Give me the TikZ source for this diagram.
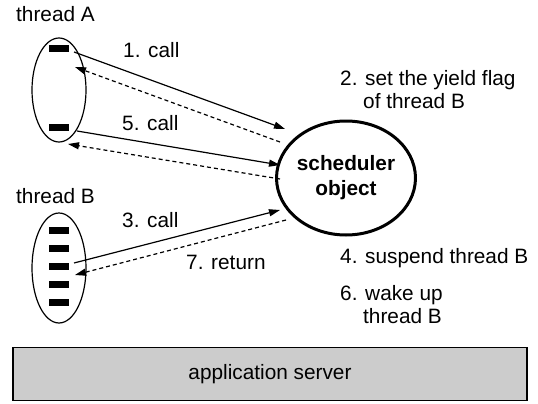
\documentclass[tikz,border=0pt]{standalone}
\usepackage{fontspec}
\setmainfont{Liberation Sans}
\usetikzlibrary{shapes.geometric,arrows.meta}
\begin{document}
\begin{tikzpicture}[x=1pt,y=-1pt,
  lbl/.style={font=\fontsize{20.8}{24}\selectfont, inner sep=0pt, anchor=base west},
  thr/.style={draw, ellipse, line width=1.2pt, inner sep=0pt},
  bar/.style={fill=black, inner sep=0pt, minimum width=20pt, minimum height=7pt},
  call/.style={line width=1.2pt, -{Triangle[length=11pt,width=7pt]}},
  ret/.style={line width=1.2pt, dash pattern=on 4pt off 3pt, -{Triangle[length=11pt,width=7pt]}},
  sched/.style={draw, ellipse, line width=3pt, minimum width=122pt, minimum height=114pt, inner sep=0pt,
     font=\bfseries\fontsize{20.8}{25}\selectfont, align=center},
  server/.style={draw, line width=1.5pt, fill={rgb,255:red,204;green,204;blue,204}, minimum width=514pt, minimum height=53pt,
     font=\fontsize{20.8}{24}\selectfont}]
\useasboundingbox (0,0) rectangle (538,404);
% threads
\node[lbl] (tAl) at (16,22) {thread A};
\node[thr, minimum width=54pt, minimum height=104pt] (tA) at (59,90) {};
\node[bar] (a1) at (59,49) {};
\node[bar] (a2) at (59,127) {};
\node[lbl] (tBl) at (16,203) {thread B};
\node[thr, minimum width=54pt, minimum height=110pt] (tB) at (59,268) {};
\foreach \i/\y in {1/230,2/248,3/266,4/284,5/302}{
  \node[bar] (b\i) at (59,\y) {};
}
% scheduler
\node[sched] (s) at (346,178) {scheduler\\object};
% endpoints
\coordinate (c1s) at (74,52);  \coordinate (c1e) at (285,129);
\coordinate (r1s) at (280,142); \coordinate (r1e) at (75,67);
\coordinate (c5s) at (77,131); \coordinate (c5e) at (280,165);
\coordinate (r5s) at (280,179); \coordinate (r5e) at (68,144);
\coordinate (c3s) at (74,263); \coordinate (c3e) at (280,210);
\coordinate (r7s) at (286,220); \coordinate (r7e) at (75,275);
\draw[call] (c1s) -- (c1e);
\draw[ret] (r1s) -- (r1e);
\draw[call] (c5s) -- (c5e);
\draw[ret] (r5s) -- (r5e);
\draw[call] (c3s) -- (c3e);
\draw[ret] (r7s) -- (r7e);
% labels
\node[lbl] (l1) at (123,58) {1. call};
\node[lbl] (l5) at (122,130) {5. call};
\node[lbl] (l3) at (122,227) {3. call};
\node[lbl] (l7) at (186,269) {7. return};
\node[lbl] (l2a) at (340,85) {2. set the yield flag};
\node[lbl] (l2b) at (363,108) {of thread B};
\node[lbl] (l4) at (340,263) {4. suspend thread B};
\node[lbl] (l6a) at (340,300) {6. wake up};
\node[lbl] (l6b) at (363,323) {thread B};
% server
\node[server] (srv) at (270,374) {application server};
\end{tikzpicture}
\end{document}
